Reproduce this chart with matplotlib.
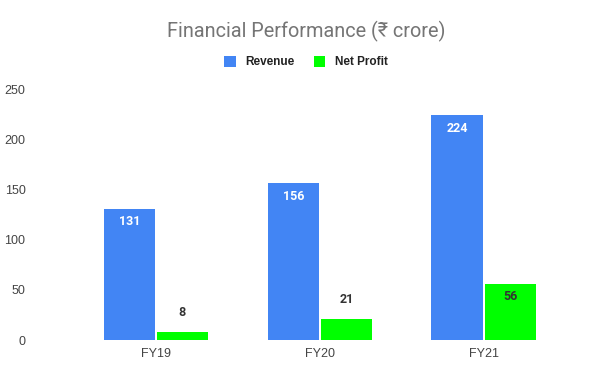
import matplotlib.pyplot as plt
import numpy as np

years = ['FY19', 'FY20', 'FY21']
revenue = [131, 156, 224]
net_profit = [8, 21, 56]
yticks = [0, 50, 100, 150, 200, 250]

plt.rcParams['font.family'] = ['Roboto', 'DejaVu Sans']
arial = ['Liberation Sans', 'DejaVu Sans']

fig = plt.figure(figsize=(6.12, 3.79), dpi=100)
ax = fig.add_axes([0.121, 0.1029, 0.803, 0.662])

x = np.arange(len(years))
w = 0.312
gap = 0.006
b1 = ax.bar(x - w / 2 - gap, revenue, w, color='#4285F4', label='Revenue')
b2 = ax.bar(x + w / 2 + gap, net_profit, w, color='#00FF00', label='Net Profit')

for rect, v in zip(b1, revenue):
    ax.annotate(str(v), (rect.get_x() + rect.get_width() / 2, v), xytext=(0, -13),
                textcoords='offset pixels', ha='center', va='center',
                color='white', fontsize=9, fontweight='bold')
for rect, v in zip(b2, net_profit):
    off = -13 if v > 30 else 19
    ax.annotate(str(v), (rect.get_x() + rect.get_width() / 2, v), xytext=(0, off),
                textcoords='offset pixels', ha='center', va='center',
                color='#333333', fontsize=9, fontweight='bold')

ax.set_xlim(-0.5, 2.5)
ax.set_ylim(0, 250)
ax.set_yticks(yticks)
ax.set_xticks(x)
ax.set_xticklabels(years, family=arial)
ax.set_yticklabels([str(t) for t in yticks], family=arial)
ax.tick_params(length=0, colors='#444444', labelsize=9)
ax.tick_params(axis='y', pad=35)
ax.tick_params(axis='x', pad=6)
for lbl in ax.get_yticklabels():
    lbl.set_horizontalalignment('right')
for s in ax.spines.values():
    s.set_visible(False)

fig.text(0.5, 0.916, 'Financial Performance (₹ crore)', ha='center', va='center',
         fontsize=14.3, color='#757575')
leg = fig.legend(loc='center', bbox_to_anchor=(0.5, 0.836), ncol=2, frameon=False,
                 prop={'family': arial, 'size': 8.5, 'weight': 'bold'},
                 handlelength=1.0, handleheight=1.0, columnspacing=1.6,
                 handletextpad=0.8)
for t in leg.get_texts():
    t.set_color('#222222')

fig.savefig('out.png', dpi=100)
